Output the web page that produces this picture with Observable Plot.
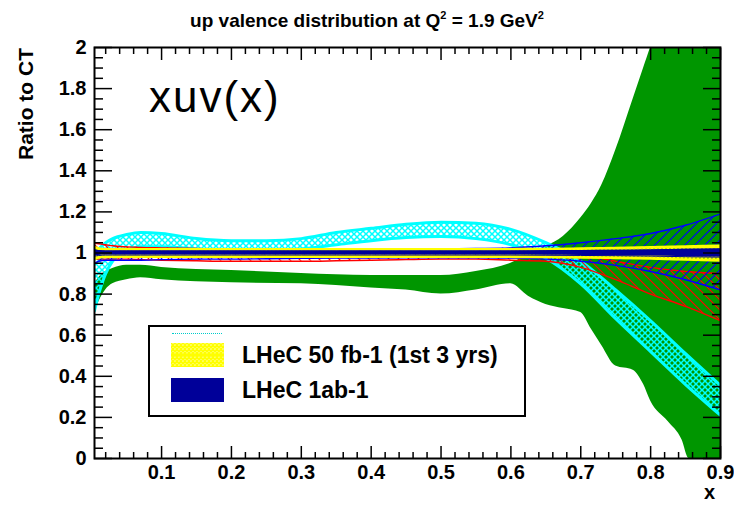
<!DOCTYPE html>
<html>
<head>
<meta charset="utf-8">
<script src="https://cdn.jsdelivr.net/npm/d3@7"></script>
<script src="https://cdn.jsdelivr.net/npm/@observablehq/plot@0.6"></script>
<style>
  html, body { margin: 0; padding: 0; background: white; }
  #wrap { position: relative; width: 734px; height: 515px; font-family: "Liberation Sans", Arial, Helvetica, sans-serif; }
  #wrap svg.plot { position: absolute; left: 0; top: 0; }
  .ov { position: absolute; white-space: nowrap; color: black; }
</style>
</head>
<body>
<svg width="0" height="0" style="position:absolute">
  <defs>
    <pattern id="cyanX" width="6" height="6" patternUnits="userSpaceOnUse">
      <path d="M-1,-1 L7,7 M7,-1 L-1,7" stroke="#00ffff" stroke-width="1.5" fill="none"/>
    </pattern>
    <pattern id="yellowX" width="4" height="4" patternUnits="userSpaceOnUse">
      <path d="M-1,-1 L5,5 M5,-1 L-1,5" stroke="#ffff00" stroke-width="1.6" fill="none"/>
    </pattern>
    <pattern id="redH" width="10" height="10" patternUnits="userSpaceOnUse">
      <path d="M-1,-1 L11,11 M-6,4 L6,16 M4,-6 L16,6" stroke="#ff0000" stroke-width="1.2" fill="none"/>
    </pattern>
    <pattern id="blueH" width="10" height="10" patternUnits="userSpaceOnUse">
      <path d="M-1,11 L11,-1 M-6,6 L6,-6 M4,16 L16,4" stroke="#0000ff" stroke-width="1.2" fill="none"/>
    </pattern>
  </defs>
</svg>
<div id="wrap"></div>
<script>
// ---- data ----
const xGreen  = [0.004, 0.01, 0.02, 0.03, 0.05, 0.07, 0.1, 0.15, 0.2, 0.3, 0.4, 0.45, 0.5, 0.55, 0.6, 0.625, 0.65, 0.675, 0.7, 0.715, 0.73, 0.75, 0.775, 0.79, 0.8, 0.825, 0.845, 0.855, 0.9];
const greenLo = [0.70, 0.76, 0.82, 0.85, 0.87, 0.88, 0.87, 0.86, 0.855, 0.85, 0.83, 0.82, 0.80, 0.82, 0.85, 0.79, 0.75, 0.73, 0.71, 0.63, 0.55, 0.45, 0.43, 0.36, 0.28, 0.18, 0.09, 0.0, 0.0];
const greenHi = [0.85, 0.88, 0.91, 0.925, 0.94, 0.94, 0.93, 0.92, 0.915, 0.90, 0.89, 0.89, 0.89, 0.91, 0.95, 0.99, 1.03, 1.08, 1.17, 1.24, 1.33, 1.50, 1.75, 1.90, 2.00, 2.20, 2.40, 2.50, 2.80];

const xBand = [0.004, 0.01, 0.02, 0.03, 0.05, 0.07, 0.1, 0.15, 0.2, 0.25, 0.3, 0.35, 0.4, 0.45, 0.5, 0.55, 0.6, 0.65, 0.7, 0.75, 0.8, 0.85, 0.9];
const cyanLo   = [0.72, 0.80, 0.90, 0.96, 1.01, 1.03, 1.03, 1.02, 1.01, 1.015, 1.02, 1.04, 1.06, 1.075, 1.08, 1.07, 1.04, 0.975, 0.85, 0.68, 0.52, 0.36, 0.21];
const cyanHi   = [1.00, 1.02, 1.05, 1.07, 1.09, 1.10, 1.095, 1.07, 1.06, 1.06, 1.07, 1.10, 1.12, 1.14, 1.15, 1.145, 1.115, 1.05, 0.96, 0.82, 0.67, 0.51, 0.355];
const redLo    = [0.97, 0.97, 0.97, 0.97, 0.97, 0.968, 0.965, 0.962, 0.96, 0.96, 0.96, 0.962, 0.965, 0.968, 0.97, 0.97, 0.965, 0.96, 0.93, 0.87, 0.80, 0.74, 0.67];
const redHi    = [1.05, 1.045, 1.04, 1.035, 1.03, 1.027, 1.025, 1.022, 1.02, 1.02, 1.02, 1.02, 1.02, 1.02, 1.02, 1.018, 1.015, 1.00, 0.99, 0.96, 0.93, 0.91, 0.90];
const blueLo   = [0.95, 0.96, 0.965, 0.965, 0.965, 0.965, 0.968, 0.97, 0.97, 0.972, 0.974, 0.975, 0.976, 0.977, 0.977, 0.977, 0.975, 0.97, 0.96, 0.94, 0.91, 0.87, 0.82];
const blueHi   = [1.02, 1.02, 1.02, 1.018, 1.016, 1.015, 1.015, 1.015, 1.015, 1.015, 1.016, 1.017, 1.018, 1.019, 1.02, 1.022, 1.025, 1.035, 1.05, 1.07, 1.095, 1.135, 1.19];
const yellowLo = [0.97, 0.978, 0.982, 0.982, 0.982, 0.982, 0.982, 0.982, 0.982, 0.982, 0.982, 0.982, 0.982, 0.982, 0.982, 0.982, 0.981, 0.98, 0.978, 0.976, 0.973, 0.968, 0.963];
const yellowHi = [1.03, 1.022, 1.018, 1.018, 1.018, 1.018, 1.018, 1.018, 1.018, 1.018, 1.018, 1.018, 1.018, 1.018, 1.018, 1.018, 1.019, 1.02, 1.022, 1.025, 1.028, 1.032, 1.036];
const navyLo   = [0.985, 0.988, 0.99, 0.99, 0.99, 0.99, 0.99, 0.99, 0.99, 0.99, 0.99, 0.99, 0.99, 0.99, 0.99, 0.99, 0.99, 0.989, 0.988, 0.987, 0.985, 0.982, 0.98];
const navyHi   = [1.015, 1.012, 1.01, 1.01, 1.01, 1.01, 1.01, 1.01, 1.01, 1.01, 1.01, 1.01, 1.01, 1.01, 1.01, 1.01, 1.01, 1.011, 1.012, 1.013, 1.015, 1.018, 1.02];

const xMajor = [0.1, 0.2, 0.3, 0.4, 0.5, 0.6, 0.7, 0.8, 0.9];
const yMajor = [0, 0.2, 0.4, 0.6, 0.8, 1, 1.2, 1.4, 1.6, 1.8, 2];
const xMinor = d3.range(1, 45).map(i => +(i * 0.02).toFixed(2)).filter(v => Math.abs(v * 10 - Math.round(v * 10)) > 1e-6);
const yMinor = d3.range(0, 41).map(i => +(i * 0.05).toFixed(2)).filter(v => Math.abs(v * 5 - Math.round(v * 5)) > 1e-6);

const legendLabels = ["LHeC 50 fb-1 (1st 3 yrs)", "LHeC 1ab-1"];

// ---- build ----
const rows = (xs, lo, hi) => xs.map((x, i) => ({x, lo: lo[i], hi: hi[i]}));
const curve = "monotone-x";
function band(data, fill, stroke, sw) {
  const m = [Plot.areaY(data, {x: "x", y1: "lo", y2: "hi", fill, curve, clip: true})];
  if (stroke) {
    m.push(Plot.lineY(data, {x: "x", y: "lo", stroke, strokeWidth: sw, curve, clip: true}));
    m.push(Plot.lineY(data, {x: "x", y: "hi", stroke, strokeWidth: sw, curve, clip: true}));
  }
  return m;
}
const fmt = d => String(+d.toFixed(1));
const blank = () => "";

const plot = Plot.plot({
  width: 734, height: 515,
  marginLeft: 94, marginRight: 14, marginTop: 47, marginBottom: 57,
  x: {domain: [0.004, 0.9], label: null},
  y: {domain: [0, 2], label: null},
  style: {fontFamily: '"Liberation Sans", Arial, Helvetica, sans-serif', fontSize: "20px", fontWeight: "bold", color: "black", background: "white"},
  marks: [
    ...band(rows(xGreen, greenLo, greenHi), "#009600", null, 0),
    ...band(rows(xBand, cyanLo, cyanHi), "url(#cyanX)", "#00ffff", 3),
    ...band(rows(xBand, redLo, redHi), "url(#redH)", "#ff0000", 1.4),
    ...band(rows(xBand, blueLo, blueHi), "url(#blueH)", "#0000ff", 1.4),
    ...band(rows(xBand, yellowLo, yellowHi), "url(#yellowX)", "#ffff00", 2.4),
    ...band(rows(xBand, navyLo, navyHi), "#000099", "#000099", 1),
    Plot.axisX({ticks: xMajor, tickSize: -12, tickPadding: 18, tickFormat: fmt, label: null, strokeWidth: 1.5}),
    Plot.axisX({ticks: xMinor, tickSize: -6, tickFormat: blank, label: null, strokeWidth: 1.5}),
    Plot.axisX({anchor: "top", ticks: xMajor, tickSize: -12, tickFormat: blank, label: null, strokeWidth: 1.5}),
    Plot.axisX({anchor: "top", ticks: xMinor, tickSize: -6, tickFormat: blank, label: null, strokeWidth: 1.5}),
    Plot.axisY({ticks: yMajor, tickSize: -18, tickPadding: 26, tickFormat: fmt, label: null, strokeWidth: 1.5}),
    Plot.axisY({ticks: yMinor, tickSize: -9, tickFormat: blank, label: null, strokeWidth: 1.5}),
    Plot.axisY({anchor: "right", ticks: yMajor, tickSize: -18, tickFormat: blank, label: null, strokeWidth: 1.5}),
    Plot.axisY({anchor: "right", ticks: yMinor, tickSize: -9, tickFormat: blank, label: null, strokeWidth: 1.5}),
    Plot.frame({stroke: "black", strokeWidth: 2})
  ]
});
plot.classList.add("plot");
const wrap = document.getElementById("wrap");
wrap.appendChild(plot);

function ov(html, css) {
  const d = document.createElement("div");
  d.className = "ov";
  d.innerHTML = html;
  Object.assign(d.style, css);
  wrap.appendChild(d);
  return d;
}
// title
ov('up valence distribution at Q<sup style="font-size:11px;vertical-align:8px">2</sup> = 1.9 GeV<sup style="font-size:11px;vertical-align:8px">2</sup>',
   {left: "0px", width: "734px", textAlign: "center", top: "4px", fontSize: "19px", fontWeight: "bold", lineHeight: "22px"});
// y label
ov('Ratio to CT', {left: "13px", top: "50px", fontSize: "21px", fontWeight: "bold", transformOrigin: "0 0",
   transform: "translate(0px, 110px) rotate(-90deg)", lineHeight: "26px"});
// x label
ov('x', {left: "704px", top: "480px", fontSize: "20px", fontWeight: "bold", lineHeight: "24px"});
// xuv(x)
ov('xuv(x)', {left: "149px", top: "72px", fontSize: "44px", fontWeight: "normal", lineHeight: "50px", letterSpacing: "2px"});

// legend
const lg = ov('', {left: "148px", top: "325px", width: "374px", height: "88px", border: "2px solid black", background: "white"});
lg.innerHTML = `
  <div style="position:absolute;left:22px;top:6px;width:50px;border-top:1px dotted #00cccc"></div>
  <svg style="position:absolute;left:21px;top:16px" width="53" height="24">
    <rect width="53" height="24" fill="url(#yellowX)"></rect>
    <line x1="0" x2="53" y1="12" y2="12" stroke="#ffff00" stroke-width="3"></line>
  </svg>
  <div style="position:absolute;left:92px;top:14px;font-size:23px;font-weight:bold;line-height:28px">${legendLabels[0]}</div>
  <div style="position:absolute;left:21px;top:51px;width:53px;height:24px;background:#000099"></div>
  <div style="position:absolute;left:92px;top:49px;font-size:23px;font-weight:bold;line-height:28px">${legendLabels[1]}</div>
`;
</script>
</body>
</html>
